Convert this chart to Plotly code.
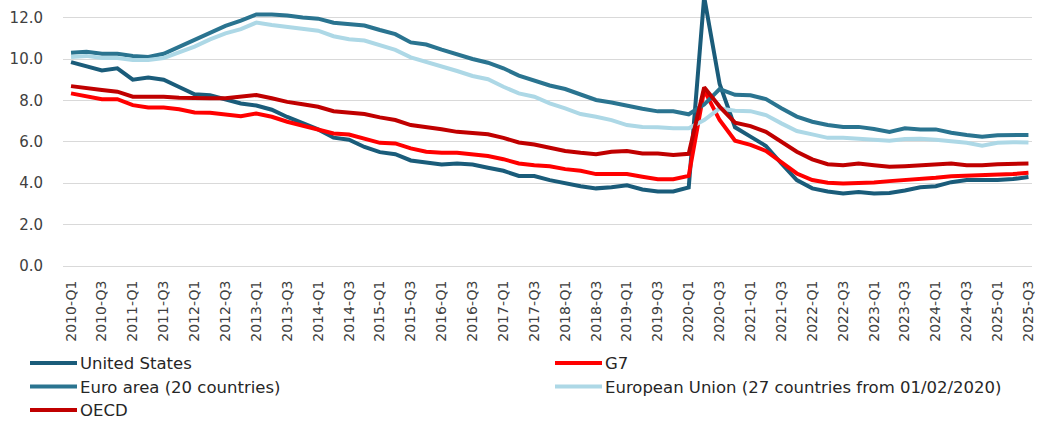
import plotly.graph_objects as go

quarters = [f"{y}-Q{q}" for y in range(2010, 2026) for q in (1, 2, 3, 4)][:63]

united_states = [9.85, 9.65, 9.45, 9.55, 9.0, 9.1, 9.0, 8.65, 8.3, 8.25, 8.05, 7.85, 7.75, 7.55, 7.2, 6.9,
                 6.6, 6.2, 6.1, 5.75, 5.5, 5.4, 5.1, 5.0, 4.9, 4.95, 4.9, 4.75, 4.6, 4.35, 4.35, 4.15,
                 4.0, 3.85, 3.75, 3.8, 3.9, 3.7, 3.6, 3.6, 3.8, 13.0, 8.8, 6.7, 6.25, 5.8, 4.95, 4.15,
                 3.75, 3.6, 3.5, 3.58, 3.5, 3.53, 3.65, 3.8, 3.85, 4.05, 4.15, 4.15, 4.15, 4.2, 4.3]

g7 = [8.34, 8.18, 8.06, 8.06, 7.77, 7.66, 7.66, 7.57, 7.42, 7.4, 7.34, 7.24, 7.37, 7.21, 6.97, 6.77,
      6.56, 6.4, 6.35, 6.16, 5.95, 5.92, 5.68, 5.52, 5.47, 5.47, 5.4, 5.31, 5.16, 4.95, 4.87, 4.82,
      4.68, 4.6, 4.44, 4.44, 4.44, 4.31, 4.19, 4.19, 4.35, 8.5, 7.05, 6.05, 5.85, 5.56, 5.03, 4.47,
      4.15, 4.02, 3.99, 3.99, 4.03, 4.1, 4.15, 4.19, 4.26, 4.34, 4.36, 4.37, 4.39, 4.44, 4.5]

euro_area = [10.3, 10.35, 10.25, 10.25, 10.15, 10.1, 10.25, 10.6, 10.9, 11.3, 11.6, 11.85, 12.15, 12.15, 12.1, 12.0,
             11.95, 11.75, 11.7, 11.62, 11.4, 11.2, 10.8, 10.7, 10.45, 10.2, 10.0, 9.82, 9.55, 9.2, 8.95, 8.72,
             8.55, 8.27, 8.02, 7.9, 7.74, 7.6, 7.47, 7.47, 7.33, 7.8, 8.55, 8.27, 8.25, 8.06, 7.62, 7.22,
             6.97, 6.81, 6.72, 6.72, 6.62, 6.48, 6.65, 6.6, 6.6, 6.44, 6.33, 6.25, 6.32, 6.33, 6.33]

european_union = [10.1, 10.15, 10.05, 10.05, 9.95, 9.95, 10.05, 10.3, 10.6, 10.95, 11.24, 11.44, 11.76, 11.64, 11.56, 11.45,
                  11.37, 11.1, 10.95, 10.89, 10.68, 10.44, 10.08, 9.87, 9.66, 9.42, 9.18, 9.02, 8.66, 8.34, 8.18, 7.86,
                  7.61, 7.34, 7.21, 7.05, 6.81, 6.72, 6.7, 6.65, 6.65, 7.05, 7.61, 7.5, 7.48, 7.29, 6.89, 6.52,
                  6.36, 6.19, 6.19, 6.15, 6.08, 6.05, 6.13, 6.15, 6.1, 6.03, 5.95, 5.81, 5.95, 5.98, 5.97]

oecd = [8.69, 8.58, 8.5, 8.42, 8.18, 8.18, 8.18, 8.13, 8.1, 8.1, 8.1, 8.18, 8.26, 8.1, 7.93, 7.81,
        7.69, 7.48, 7.4, 7.34, 7.18, 7.05, 6.81, 6.72, 6.61, 6.48, 6.44, 6.36, 6.19, 5.97, 5.87, 5.73,
        5.56, 5.47, 5.4, 5.52, 5.56, 5.44, 5.44, 5.36, 5.42, 8.63, 7.7, 6.92, 6.76, 6.48, 6.0, 5.52,
        5.15, 4.92, 4.87, 4.95, 4.87, 4.79, 4.82, 4.87, 4.92, 4.95, 4.87, 4.87, 4.92, 4.95, 4.95]

series_names = ["United States", "G7", "Euro area (20 countries)",
                "European Union (27 countries from 01/02/2020)", "OECD"]
series_values = [united_states, g7, euro_area, european_union, oecd]
series_colors = ["#1a5c7a", "#ff0000", "#2a7490", "#add8e6", "#c00000"]

tick_idx = list(range(0, len(quarters), 2))
tick_text = [quarters[i] for i in tick_idx]
x = list(range(len(quarters)))

W, H = 1039, 424
ML, MR, MT, MB = 63, 7, 0, 158
PW, PH = W - ML - MR, H - MT - MB

fig = go.Figure()
for name, vals, col in zip(series_names, series_values, series_colors):
    fig.add_trace(go.Scatter(x=x, y=vals, mode="lines", name=name, showlegend=False,
                             line=dict(color=col, width=4)))

font_family = "DejaVu Sans"

# manual two-column legend (pixel layout converted to paper coordinates)
def px2x(p):
    return (p - ML) / PW

def py2y(p):
    return (MT + PH - p) / PH

legend_slots = [(30, 363), (555, 363), (30, 386.5), (555, 386.5), (30, 410)]
shapes, annotations = [], []
for (lx, ly), name, col in zip(legend_slots, series_names, series_colors):
    shapes.append(dict(type="line", xref="paper", yref="paper",
                       x0=px2x(lx), x1=px2x(lx + 47), y0=py2y(ly), y1=py2y(ly),
                       line=dict(color=col, width=4)))
    annotations.append(dict(xref="paper", yref="paper", x=px2x(lx + 48), y=py2y(ly + 0.5),
                            xanchor="left", yanchor="middle", showarrow=False, text=name,
                            font=dict(family=font_family, size=16.5, color="#262626")))

fig.update_layout(
    width=W, height=H, template="none",
    margin=dict(l=ML, r=MR, t=MT, b=MB, autoexpand=False),
    paper_bgcolor="white", plot_bgcolor="white",
    font=dict(family=font_family, size=14, color="#404040"),
    showlegend=False, hovermode=False,
    shapes=shapes, annotations=annotations,
    xaxis=dict(range=[-0.52, 62.23], tickmode="array", tickvals=tick_idx, ticktext=tick_text,
               tickangle=-90, showgrid=False, zeroline=False, showline=False,
               ticks="outside", ticklen=8, tickcolor="rgba(0,0,0,0)", automargin=False,
               tickfont=dict(family=font_family, size=14, color="#404040")),
    yaxis=dict(range=[0, 12.85], tickmode="linear", tick0=0, dtick=2, tickformat=".1f",
               showgrid=True, gridcolor="#d9d9d9", gridwidth=1,
               zeroline=True, zerolinecolor="#d9d9d9", zerolinewidth=1, showline=False,
               ticks="outside", ticklen=16, tickcolor="rgba(0,0,0,0)", automargin=False,
               tickfont=dict(family=font_family, size=15, color="#404040")),
)

fig.write_html("out.html", config={"displayModeBar": False},
               post_script="document.body.style.margin='0';document.body.style.overflow='hidden';")
